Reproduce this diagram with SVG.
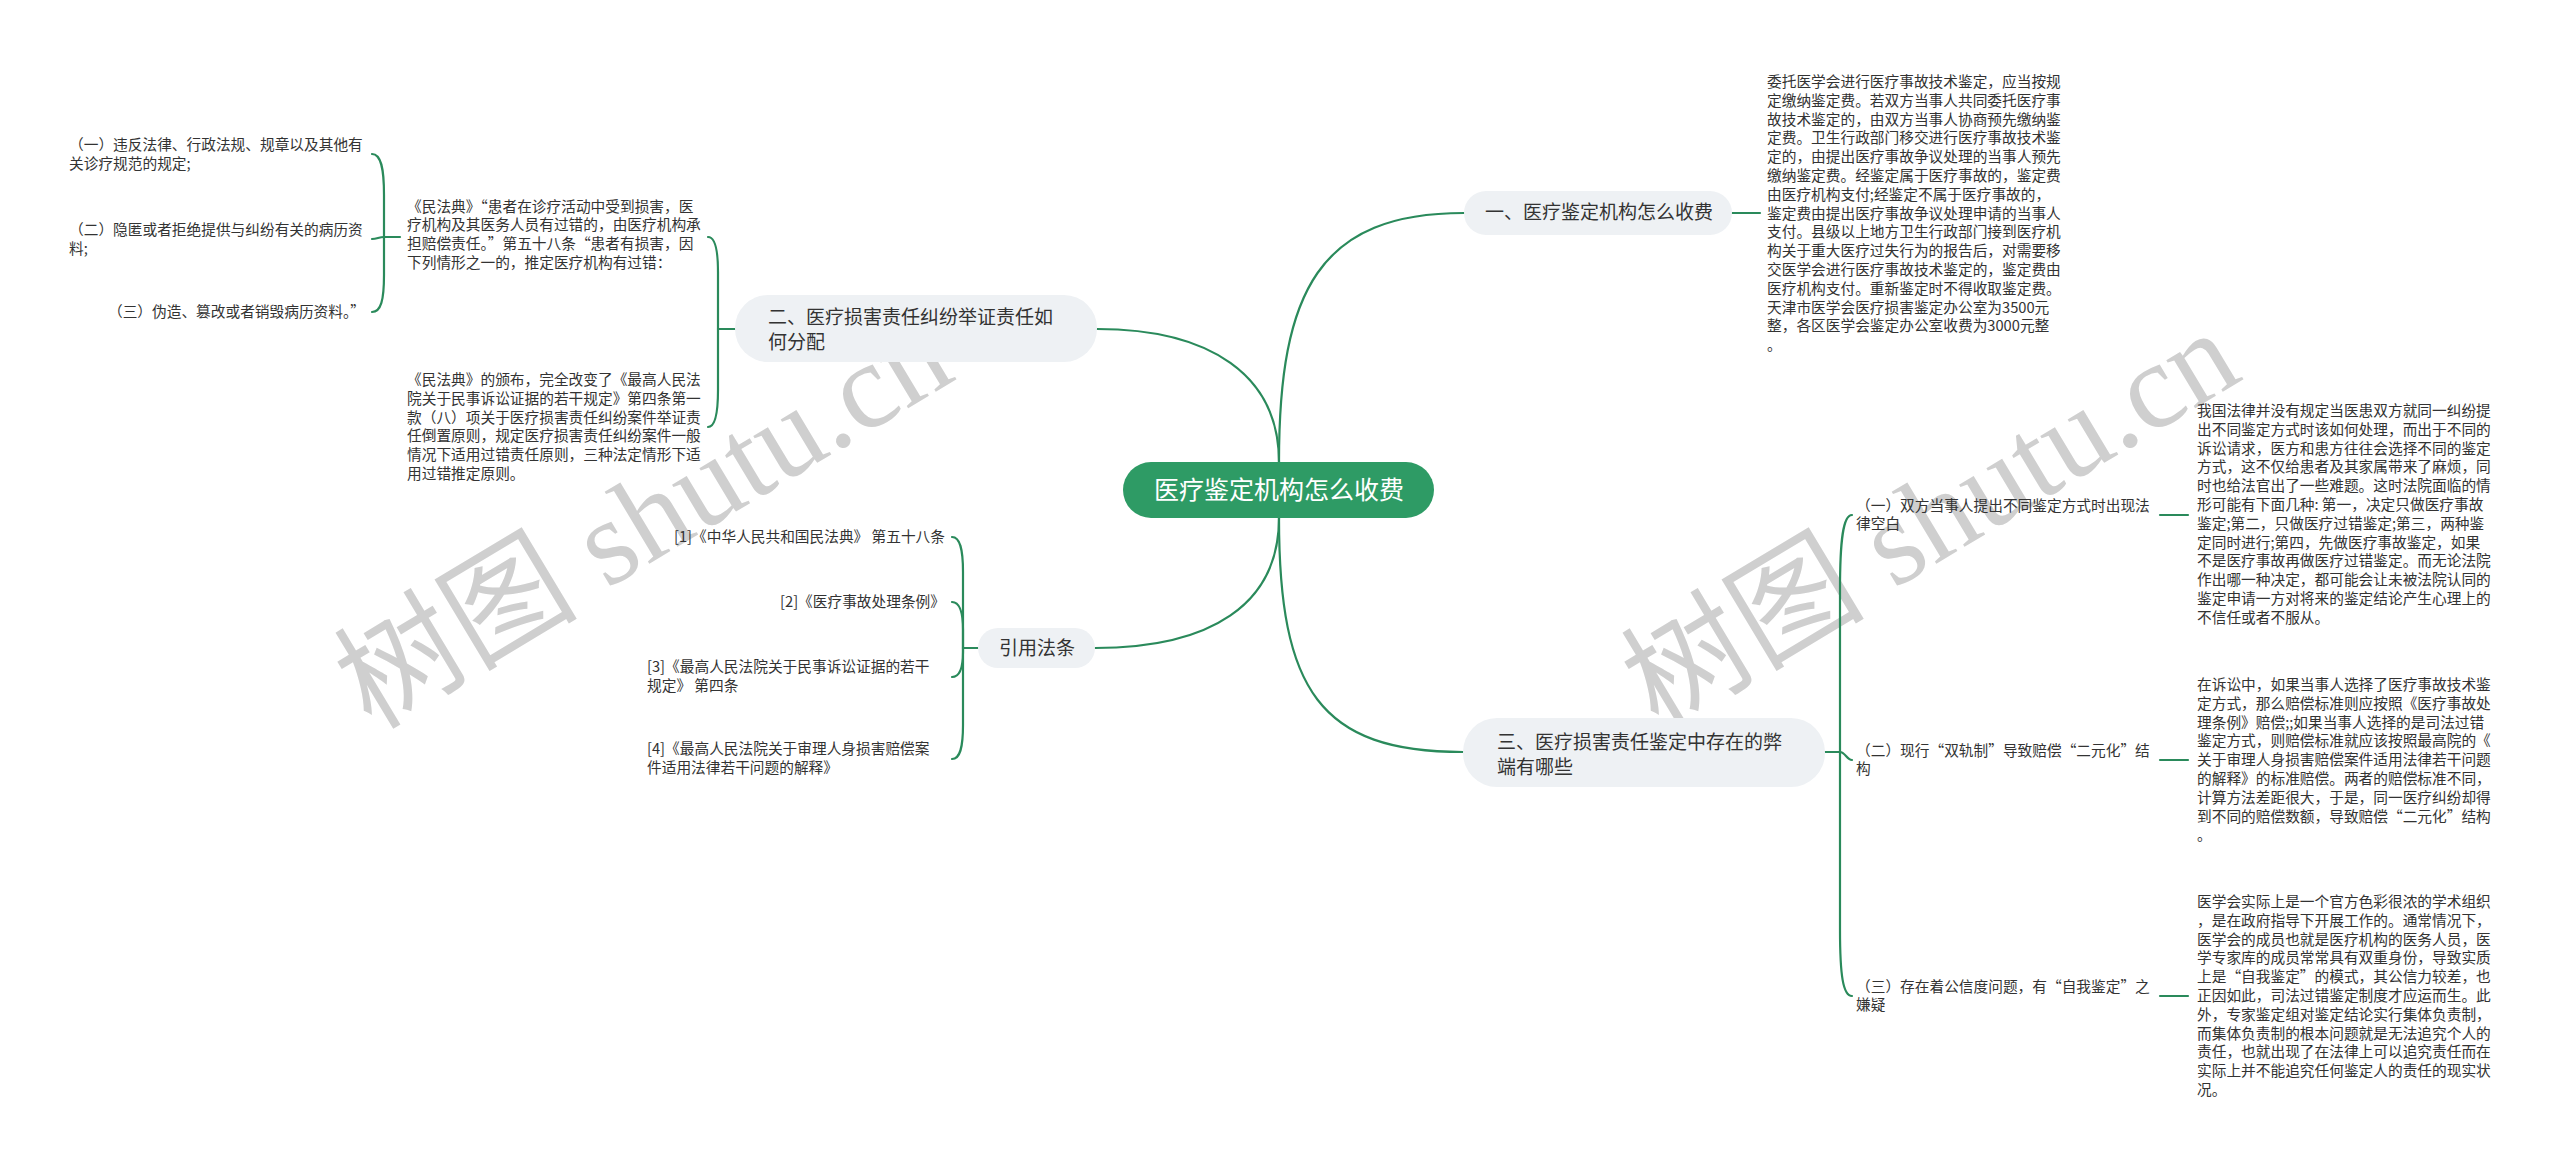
<svg xmlns="http://www.w3.org/2000/svg" width="2560" height="1167" viewBox="0 0 2560 1167">
<style>
.bg{fill:#ffffff}
.wm{font-family:"Liberation Serif","Noto Sans CJK SC",serif;font-size:122px;fill:#cfcfcf;text-anchor:middle}
.ln{fill:none;stroke:#2a8a5b;stroke-width:2.2;stroke-linecap:round}
.root{fill:#2e9b65}
.rootT{font-family:"Noto Sans CJK SC","Noto Sans CJK JP",sans-serif;font-size:25px;fill:#ffffff;text-anchor:middle}
.br{fill:#eef1f4}
.brT{font-family:"Noto Sans CJK SC","Noto Sans CJK JP",sans-serif;font-size:19px;fill:#333333}
.t{font-family:"Noto Sans CJK SC","Noto Sans CJK JP",sans-serif;font-size:14.7px;fill:#333333}
.e{text-anchor:end}
</style>
<rect class="bg" x="0" y="0" width="2560" height="1167"/>
<g id="watermarks">
<text class="wm" transform="translate(645,522) rotate(-31)" x="0" y="38">树图 shutu.cn</text>
<text class="wm" transform="translate(1932,522) rotate(-31)" x="0" y="38">树图 shutu.cn</text>
</g>
<g id="connectors">
<path class="ln" d="M1279,462 C1279,290 1320,213 1464,213"/>
<path class="ln" d="M1279,462 C1279,375 1210,329 1097,329"/>
<path class="ln" d="M1279,518 C1279,605 1210,648 1095,648"/>
<path class="ln" d="M1279,518 C1279,690 1320,752 1463,752"/>
<path class="ln" d="M1732,213 L1760,213"/>
<path class="ln" d="M735,329 L718,329"/>
<path class="ln" d="M718,329 L718,272 C718,250 715,237 708,237"/>
<path class="ln" d="M718,329 L718,390 C718,412 715,427 708,427"/>
<path class="ln" d="M400,237 L384,237"/>
<path class="ln" d="M384,237 L384,195 C384,168 381,154 372,154"/>
<path class="ln" d="M384,237 C379,237 377,239 372,239"/>
<path class="ln" d="M384,237 L384,275 C384,300 381,312 372,312"/>
<path class="ln" d="M978,648 L963,648"/>
<path class="ln" d="M963,648 L963,572 C963,549 960,537 952,537"/>
<path class="ln" d="M963,648 L963,630 C963,612 960,602 952,602"/>
<path class="ln" d="M963,648 L963,652 C963,668 960,677 952,677"/>
<path class="ln" d="M963,648 L963,725 C963,748 960,759 952,759"/>
<path class="ln" d="M1825,752 L1840,752"/>
<path class="ln" d="M1840,752 L1840,590 C1840,540 1843,515 1852,515"/>
<path class="ln" d="M1840,752 C1845,752 1847,760 1852,760"/>
<path class="ln" d="M1840,752 L1840,930 C1840,975 1843,996 1852,996"/>
<path class="ln" d="M2160,515 L2188,515"/>
<path class="ln" d="M2160,760 L2188,760"/>
<path class="ln" d="M2160,996 L2188,996"/>
</g>
<g id="root">
<rect class="root" x="1123" y="462" width="311" height="56" rx="28"/>
<text class="rootT" x="1279" y="499">医疗鉴定机构怎么收费</text>
</g>
<g id="b1">
<rect class="br" x="1464" y="191" width="268" height="44" rx="22"/>
<text class="brT" x="1485" y="219">一、医疗鉴定机构怎么收费</text>
</g>
<g id="b1-text">
<text class="t" x="1767" y="87"><tspan x="1767">委托医学会进行医疗事故技术鉴定，应当按规</tspan><tspan x="1767" dy="18.8">定缴纳鉴定费。若双方当事人共同委托医疗事</tspan><tspan x="1767" dy="18.8">故技术鉴定的，由双方当事人协商预先缴纳鉴</tspan><tspan x="1767" dy="18.8">定费。卫生行政部门移交进行医疗事故技术鉴</tspan><tspan x="1767" dy="18.8">定的，由提出医疗事故争议处理的当事人预先</tspan><tspan x="1767" dy="18.8">缴纳鉴定费。经鉴定属于医疗事故的，鉴定费</tspan><tspan x="1767" dy="18.8">由医疗机构支付;经鉴定不属于医疗事故的，</tspan><tspan x="1767" dy="18.8">鉴定费由提出医疗事故争议处理申请的当事人</tspan><tspan x="1767" dy="18.8">支付。县级以上地方卫生行政部门接到医疗机</tspan><tspan x="1767" dy="18.8">构关于重大医疗过失行为的报告后，对需要移</tspan><tspan x="1767" dy="18.8">交医学会进行医疗事故技术鉴定的，鉴定费由</tspan><tspan x="1767" dy="18.8">医疗机构支付。重新鉴定时不得收取鉴定费。</tspan><tspan x="1767" dy="18.8">天津市医学会医疗损害鉴定办公室为3500元</tspan><tspan x="1767" dy="18.8">整，各区医学会鉴定办公室收费为3000元整</tspan><tspan x="1767" dy="18.8">。</tspan></text>
</g>
<g id="b2">
<rect class="br" x="735" y="295" width="362" height="67" rx="33"/>
<text class="brT" x="768" y="324"><tspan x="768">二、医疗损害责任纠纷举证责任如</tspan><tspan x="768" dy="25">何分配</tspan></text>
</g>
<g id="b2-a">
<text class="t" x="407" y="211.6"><tspan x="407">《民法典》“患者在诊疗活动中受到损害，医</tspan><tspan x="407" dy="18.8">疗机构及其医务人员有过错的，由医疗机构承</tspan><tspan x="407" dy="18.8">担赔偿责任。”第五十八条“患者有损害，因</tspan><tspan x="407" dy="18.8">下列情形之一的，推定医疗机构有过错：</tspan></text>
</g>
<g id="b2-a1">
<text class="t" x="69" y="150"><tspan x="69">（一）违反法律、行政法规、规章以及其他有</tspan><tspan x="69" dy="18.8">关诊疗规范的规定;</tspan></text>
</g>
<g id="b2-a2">
<text class="t" x="69" y="235"><tspan x="69">（二）隐匿或者拒绝提供与纠纷有关的病历资</tspan><tspan x="69" dy="18.8">料;</tspan></text>
</g>
<g id="b2-a3">
<text class="t e" x="365" y="317">（三）伪造、篡改或者销毁病历资料。”</text>
</g>
<g id="b2-b">
<text class="t" x="407" y="385"><tspan x="407">《民法典》的颁布，完全改变了《最高人民法</tspan><tspan x="407" dy="18.8">院关于民事诉讼证据的若干规定》第四条第一</tspan><tspan x="407" dy="18.8">款（八）项关于医疗损害责任纠纷案件举证责</tspan><tspan x="407" dy="18.8">任倒置原则，规定医疗损害责任纠纷案件一般</tspan><tspan x="407" dy="18.8">情况下适用过错责任原则，三种法定情形下适</tspan><tspan x="407" dy="18.8">用过错推定原则。</tspan></text>
</g>
<g id="b4">
<rect class="br" x="978" y="628" width="117" height="40" rx="20"/>
<text class="brT" x="999" y="655">引用法条</text>
</g>
<g id="ref1"><text class="t e" x="945" y="542">[1]《中华人民共和国民法典》 第五十八条</text></g>
<g id="ref2"><text class="t e" x="945" y="607">[2]《医疗事故处理条例》</text></g>
<g id="ref3"><text class="t" x="647" y="672"><tspan x="647">[3]《最高人民法院关于民事诉讼证据的若干</tspan><tspan x="647" dy="18.8">规定》 第四条</tspan></text></g>
<g id="ref4"><text class="t" x="647" y="754"><tspan x="647">[4]《最高人民法院关于审理人身损害赔偿案</tspan><tspan x="647" dy="18.8">件适用法律若干问题的解释》</tspan></text></g>
<g id="b3">
<rect class="br" x="1463" y="718" width="362" height="69" rx="34"/>
<text class="brT" x="1497" y="749"><tspan x="1497">三、医疗损害责任鉴定中存在的弊</tspan><tspan x="1497" dy="25">端有哪些</tspan></text>
</g>
<g id="b3-1">
<text class="t" x="1856" y="510.6"><tspan x="1856">（一）双方当事人提出不同鉴定方式时出现法</tspan><tspan x="1856" dy="18.8">律空白</tspan></text>
</g>
<g id="b3-1-text">
<text class="t" x="2197" y="416"><tspan x="2197">我国法律并没有规定当医患双方就同一纠纷提</tspan><tspan x="2197" dy="18.8">出不同鉴定方式时该如何处理，而出于不同的</tspan><tspan x="2197" dy="18.8">诉讼请求，医方和患方往往会选择不同的鉴定</tspan><tspan x="2197" dy="18.8">方式，这不仅给患者及其家属带来了麻烦，同</tspan><tspan x="2197" dy="18.8">时也给法官出了一些难题。这时法院面临的情</tspan><tspan x="2197" dy="18.8">形可能有下面几种: 第一，决定只做医疗事故</tspan><tspan x="2197" dy="18.8">鉴定;第二，只做医疗过错鉴定;第三，两种鉴</tspan><tspan x="2197" dy="18.8">定同时进行;第四，先做医疗事故鉴定，如果</tspan><tspan x="2197" dy="18.8">不是医疗事故再做医疗过错鉴定。而无论法院</tspan><tspan x="2197" dy="18.8">作出哪一种决定，都可能会让未被法院认同的</tspan><tspan x="2197" dy="18.8">鉴定申请一方对将来的鉴定结论产生心理上的</tspan><tspan x="2197" dy="18.8">不信任或者不服从。</tspan></text>
</g>
<g id="b3-2">
<text class="t" x="1856" y="755.6"><tspan x="1856">（二）现行“双轨制”导致赔偿“二元化”结</tspan><tspan x="1856" dy="18.8">构</tspan></text>
</g>
<g id="b3-2-text">
<text class="t" x="2197" y="690"><tspan x="2197">在诉讼中，如果当事人选择了医疗事故技术鉴</tspan><tspan x="2197" dy="18.8">定方式，那么赔偿标准则应按照《医疗事故处</tspan><tspan x="2197" dy="18.8">理条例》赔偿;;如果当事人选择的是司法过错</tspan><tspan x="2197" dy="18.8">鉴定方式，则赔偿标准就应该按照最高院的《</tspan><tspan x="2197" dy="18.8">关于审理人身损害赔偿案件适用法律若干问题</tspan><tspan x="2197" dy="18.8">的解释》的标准赔偿。两者的赔偿标准不同，</tspan><tspan x="2197" dy="18.8">计算方法差距很大，于是，同一医疗纠纷却得</tspan><tspan x="2197" dy="18.8">到不同的赔偿数额，导致赔偿“二元化”结构</tspan><tspan x="2197" dy="18.8">。</tspan></text>
</g>
<g id="b3-3">
<text class="t" x="1856" y="991.6"><tspan x="1856">（三）存在着公信度问题，有“自我鉴定”之</tspan><tspan x="1856" dy="18.8">嫌疑</tspan></text>
</g>
<g id="b3-3-text">
<text class="t" x="2197" y="907"><tspan x="2197">医学会实际上是一个官方色彩很浓的学术组织</tspan><tspan x="2197" dy="18.8">，是在政府指导下开展工作的。通常情况下，</tspan><tspan x="2197" dy="18.8">医学会的成员也就是医疗机构的医务人员，医</tspan><tspan x="2197" dy="18.8">学专家库的成员常常具有双重身份，导致实质</tspan><tspan x="2197" dy="18.8">上是“自我鉴定”的模式，其公信力较差，也</tspan><tspan x="2197" dy="18.8">正因如此，司法过错鉴定制度才应运而生。此</tspan><tspan x="2197" dy="18.8">外，专家鉴定组对鉴定结论实行集体负责制，</tspan><tspan x="2197" dy="18.8">而集体负责制的根本问题就是无法追究个人的</tspan><tspan x="2197" dy="18.8">责任，也就出现了在法律上可以追究责任而在</tspan><tspan x="2197" dy="18.8">实际上并不能追究任何鉴定人的责任的现实状</tspan><tspan x="2197" dy="18.8">况。</tspan></text>
</g>
</svg>
